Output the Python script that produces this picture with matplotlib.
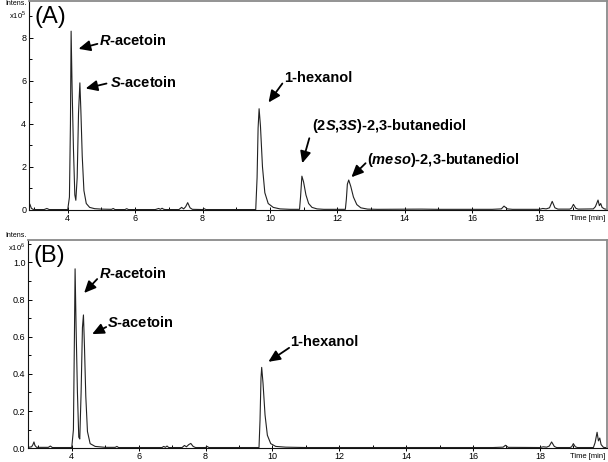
import matplotlib
matplotlib.use('Agg')
import matplotlib.pyplot as plt
from matplotlib.ticker import MultipleLocator, FixedLocator

plt.rcParams['font.family'] = ['Liberation Sans', 'DejaVu Sans']
plt.rcParams['mathtext.fontset'] = 'custom'
plt.rcParams['mathtext.rm'] = 'Liberation Sans'
plt.rcParams['mathtext.bfit'] = 'Liberation Sans:italic:bold'

# chromatogram A (intensity x 1e5) as (time, intensity)
trace_a = [(2.85, 0.34), (2.88, 0.25), (2.92, 0.08), (2.97, 0.03), (3.05, 0.02), (3.3, 0.02),
           (3.38, 0.07), (3.45, 0.02), (3.7, 0.02), (4.0, 0.02), (4.05, 0.6), (4.08, 4.0),
           (4.10, 8.3), (4.13, 5.6), (4.17, 2.8), (4.21, 0.7), (4.24, 0.45), (4.28, 1.5),
           (4.32, 4.5), (4.36, 5.9), (4.39, 4.6), (4.43, 2.5), (4.48, 0.9), (4.55, 0.3),
           (4.65, 0.12), (4.8, 0.06), (5.0, 0.04), (5.3, 0.03), (5.35, 0.07), (5.4, 0.02),
           (5.7, 0.02), (5.75, 0.06), (5.8, 0.02), (6.6, 0.02), (6.7, 0.07), (6.75, 0.03),
           (6.8, 0.08), (6.85, 0.03), (6.9, 0.02), (7.3, 0.02), (7.38, 0.12), (7.44, 0.05),
           (7.5, 0.15), (7.56, 0.34), (7.63, 0.1), (7.7, 0.03), (8.0, 0.02), (8.05, 0.06),
           (8.1, 0.02), (9.0, 0.02), (9.58, 0.02), (9.62, 1.5), (9.65, 3.8), (9.68, 4.7),
           (9.72, 3.9), (9.78, 2.0), (9.85, 0.8), (9.95, 0.3), (10.1, 0.12), (10.3, 0.05),
           (10.6, 0.03), (10.88, 0.03), (10.91, 0.6), (10.95, 1.57), (11.0, 1.3),
           (11.07, 0.7), (11.15, 0.3), (11.25, 0.12), (11.4, 0.05), (11.6, 0.03),
           (12.24, 0.03), (12.27, 0.5), (12.3, 1.2), (12.34, 1.39), (12.4, 1.1),
           (12.48, 0.6), (12.58, 0.25), (12.7, 0.1), (12.9, 0.04), (13.2, 0.03),
           (14.5, 0.04), (15.0, 0.03), (16.6, 0.03), (16.87, 0.05), (16.95, 0.18),
           (17.05, 0.05), (17.2, 0.03), (18.0, 0.03), (18.1, 0.07), (18.2, 0.05),
           (18.3, 0.1), (18.38, 0.4), (18.46, 0.1), (18.55, 0.04), (18.9, 0.04),
           (18.95, 0.08), (19.01, 0.26), (19.08, 0.08), (19.15, 0.04), (19.6, 0.05),
           (19.66, 0.15), (19.7, 0.3), (19.74, 0.46), (19.78, 0.2), (19.82, 0.3),
           (19.86, 0.12), (19.93, 0.05), (20.0, 0.03)]

# chromatogram B (intensity x 1e6)
trace_b = [(2.7, 0.005), (2.8, 0.008), (2.84, 0.02), (2.87, 0.034), (2.9, 0.015), (2.95, 0.005),
           (3.3, 0.005), (3.36, 0.012), (3.42, 0.004), (4.0, 0.004), (4.05, 0.1), (4.08, 0.6),
           (4.10, 0.965), (4.13, 0.65), (4.17, 0.3), (4.21, 0.06), (4.24, 0.05), (4.28, 0.3),
           (4.32, 0.65), (4.35, 0.717), (4.38, 0.55), (4.42, 0.28), (4.47, 0.09), (4.55, 0.025),
           (4.7, 0.01), (5.0, 0.005), (5.3, 0.005), (5.35, 0.01), (5.4, 0.004), (6.7, 0.004),
           (6.75, 0.01), (6.8, 0.005), (6.85, 0.012), (6.9, 0.004), (7.3, 0.004), (7.37, 0.015),
           (7.43, 0.008), (7.5, 0.02), (7.56, 0.026), (7.63, 0.01), (7.7, 0.004), (8.0, 0.004),
           (8.05, 0.01), (8.1, 0.004), (9.6, 0.004), (9.63, 0.15), (9.66, 0.38), (9.68, 0.435),
           (9.72, 0.35), (9.78, 0.18), (9.85, 0.07), (9.95, 0.025), (10.1, 0.01), (10.4, 0.006),
           (11.0, 0.004), (16.6, 0.004), (16.9, 0.006), (16.97, 0.016), (17.05, 0.005),
           (18.0, 0.004), (18.1, 0.008), (18.2, 0.006), (18.28, 0.012), (18.35, 0.034),
           (18.43, 0.01), (18.5, 0.004), (18.9, 0.004), (18.95, 0.008), (19.0, 0.025),
           (19.06, 0.008), (19.12, 0.004), (19.6, 0.004), (19.65, 0.03), (19.71, 0.086),
           (19.75, 0.04), (19.79, 0.055), (19.83, 0.02), (19.9, 0.005), (20.0, 0.003)]

# peak labels: (text, text x, text y, arrow tail x, tail y, arrow head x, head y)
labels_a = [(r'$\mathbfit{R}$-acetoin', 4.94, 7.85, 4.88, 7.71, 4.32, 7.48),
            (r'$\mathbfit{S}$-acetoin', 5.24, 5.91, 5.15, 5.87, 4.53, 5.64),
            ('1-hexanol', 10.42, 6.14, 10.37, 5.87, 9.96, 4.99),
            (r'(2$\mathbfit{S}$,3$\mathbfit{S}$)-2,3-butanediol', 11.26, 3.88, 11.17, 3.33, 10.96, 2.17),
            (r'($\mathbfit{meso}$)-2,3-butanediol', 12.87, 2.31, 12.84, 2.17, 12.42, 1.52)]
labels_b = [(r'$\mathbfit{R}$-acetoin', 4.82, 0.94, 4.76, 0.91, 4.37, 0.835),
            (r'$\mathbfit{S}$-acetoin', 5.06, 0.674, 5.03, 0.652, 4.61, 0.614),
            ('1-hexanol', 10.53, 0.572, 10.5, 0.54, 9.88, 0.465)]

panels = [
    dict(trace=trace_a, labels=labels_a, tag='(A)', exp=r'x10$^5$',
         rect=[0.0477, 0.5455, 0.9503, 0.4523], xlim=(2.85, 20), ylim=(0, 9.7),
         major=2, minor=1, fmt='%d', head_dy=0),
    dict(trace=trace_b, labels=labels_b, tag='(B)', exp=r'x10$^6$',
         rect=[0.0465, 0.0297, 0.9515, 0.4508], xlim=(2.7, 20), ylim=(0, 1.12),
         major=0.2, minor=0.1, fmt='%.1f', head_dy=7),
]

fig = plt.figure(figsize=(6.08, 4.62), dpi=100)

for p in panels:
    ax = fig.add_axes(p['rect'])
    t, y = zip(*p['trace'])
    ax.plot(t, y, color='#222222', lw=0.8)
    ax.set_xlim(*p['xlim'])
    ax.set_ylim(*p['ylim'])

    ax.xaxis.set_major_locator(FixedLocator(range(4, 19, 2)))
    ax.xaxis.set_minor_locator(FixedLocator(range(3, 20, 2)))
    ax.yaxis.set_major_locator(MultipleLocator(p['major']))
    ax.yaxis.set_minor_locator(MultipleLocator(p['minor']))
    ax.yaxis.set_major_formatter(plt.FormatStrFormatter(p['fmt']))
    ax.tick_params(axis='x', which='major', direction='inout', length=4, width=0.7,
                   labelsize=6.5, pad=1)
    ax.tick_params(axis='x', which='minor', direction='in', length=2, width=0.7)
    ax.tick_params(axis='y', which='major', direction='in', length=3, width=0.7,
                   labelsize=6.5, pad=2)
    ax.tick_params(axis='y', which='minor', direction='in', length=2, width=0.7)

    for s in ['left', 'bottom']:
        ax.spines[s].set_color('#111111')
        ax.spines[s].set_linewidth(0.8)
    for s in ['top', 'right']:
        ax.spines[s].set_color('#8a8a8a')
        ax.spines[s].set_linewidth(1.3)

    # header texts placed in pixels relative to the axes top-left corner
    x0, y1 = fig.transFigure.transform((p['rect'][0], p['rect'][1] + p['rect'][3]))
    dy = p['head_dy']
    fig.text(5 / 608 + p['rect'][0], (y1 - 5) / 462, p['tag'], fontsize=17,
             ha='left', va='top')
    fig.text((x0 - 2) / 608, (y1 + dy + 1) / 462, 'Intens.', fontsize=5,
             ha='right', va='top')
    fig.text((x0 - 3) / 608, (y1 + dy - 8) / 462, p['exp'], fontsize=5.5,
             ha='right', va='top')
    ax.text(0.997, -0.022, 'Time [min]', transform=ax.transAxes, fontsize=5.5,
            ha='right', va='top')

    for txt, tx, ty, ax0, ay0, hx, hy in p['labels']:
        ax.text(tx, ty, txt, fontsize=10.5, fontweight='bold', ha='left', va='center')
        ax.annotate('', xy=(hx, hy), xytext=(ax0, ay0),
                    arrowprops=dict(arrowstyle='-|>,head_length=0.7,head_width=0.32',
                                    color='black', lw=1.3, shrinkA=0, shrinkB=0))

plt.savefig('out.png', dpi=100)
